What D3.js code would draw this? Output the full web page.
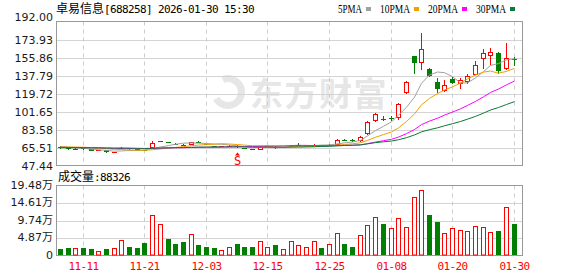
<!DOCTYPE html>
<html>
<head>
<meta charset="utf-8">
<script src="https://cdn.jsdelivr.net/npm/d3@7"></script>
<style>
  html, body { margin: 0; padding: 0; background: #fff; }
  svg { display: block; }
</style>
</head>
<body>
<svg id="chart" width="578" height="276"></svg>
<script>
const stockName = '卓易信息';
const stockCode = '[688258] 2026-01-30 15:30';

const dates = [
  '2025-11-06', '2025-11-07', '2025-11-10', '2025-11-11', '2025-11-12', '2025-11-13', '2025-11-14',
  '2025-11-17', '2025-11-18', '2025-11-19', '2025-11-20', '2025-11-21', '2025-11-24', '2025-11-25',
  '2025-11-26', '2025-11-27', '2025-11-28', '2025-12-01', '2025-12-02', '2025-12-03', '2025-12-04',
  '2025-12-05', '2025-12-08', '2025-12-09', '2025-12-10', '2025-12-11', '2025-12-12', '2025-12-15',
  '2025-12-16', '2025-12-17', '2025-12-18', '2025-12-19', '2025-12-22', '2025-12-23', '2025-12-24',
  '2025-12-25', '2025-12-26', '2025-12-29', '2025-12-30', '2025-12-31', '2026-01-05', '2026-01-06',
  '2026-01-07', '2026-01-08', '2026-01-09', '2026-01-12', '2026-01-13', '2026-01-14', '2026-01-15',
  '2026-01-16', '2026-01-19', '2026-01-20', '2026-01-21', '2026-01-22', '2026-01-23', '2026-01-26',
  '2026-01-27', '2026-01-28', '2026-01-29', '2026-01-30'
];

const opens = [
  66.5, 65.5, 63.8, 64.8, 63.6, 62.0, 62.6, 60.0, 64.3, 64.8,
  63.6, 62.8, 64.8, 71.4, 70.8, 69.5, 67.9, 68.5, 70.6, 69.0,
  67.0, 66.5, 66.8, 66.6, 65.0, 63.8, 63.2, 66.3, 66.0, 65.5,
  66.0, 68.5, 67.8, 68.0, 67.9, 68.1, 68.2, 72.9, 72.6, 71.8,
  78.6, 91.9, 94.5, 95.1, 95.0, 120.0, 157.5, 150.5, 144.5, 130.8,
  122.4, 134.1, 129.5, 130.8, 138.5, 154.5, 157.5, 159.9, 144.1, 154.2
];
const highs = [
  67.5, 66.0, 65.0, 65.2, 64.0, 63.0, 63.0, 61.2, 65.8, 65.0,
  63.8, 63.2, 72.5, 72.5, 71.2, 69.8, 68.8, 71.5, 72.3, 69.2,
  67.2, 67.2, 67.6, 67.8, 65.3, 64.0, 67.5, 67.2, 66.8, 66.2,
  67.6, 70.2, 68.4, 68.8, 68.5, 68.9, 74.2, 73.8, 73.8, 76.6,
  91.9, 100.6, 96.9, 96.9, 110.0, 132.1, 157.8, 180.1, 145.8, 135.5,
  133.5, 135.8, 135.5, 139.5, 152.8, 164.2, 164.9, 160.9, 170.2, 156.2
];
const lows = [
  64.5, 63.2, 63.5, 63.2, 61.5, 61.8, 60.2, 59.8, 64.0, 63.5,
  62.2, 61.8, 64.5, 71.0, 70.0, 69.0, 66.8, 68.2, 70.2, 68.5,
  66.2, 66.3, 66.6, 64.9, 64.2, 63.0, 63.0, 66.0, 64.5, 65.2,
  65.8, 67.5, 67.4, 67.8, 67.6, 67.9, 67.5, 71.8, 71.2, 71.5,
  78.3, 91.6, 91.9, 91.9, 93.6, 119.4, 139.5, 143.5, 135.8, 120.7,
  121.7, 128.8, 124.0, 129.5, 137.8, 144.5, 148.5, 139.5, 143.5, 147.1
];
const closes = [
  65.0, 63.8, 64.5, 63.6, 61.8, 62.5, 60.5, 60.8, 64.9, 63.8,
  62.5, 62.2, 70.2, 71.6, 70.5, 69.2, 67.8, 71.2, 70.5, 68.8,
  66.5, 66.8, 67.2, 66.4, 64.5, 63.3, 66.5, 66.8, 65.4, 65.8,
  67.3, 67.9, 68.0, 68.3, 68.1, 68.5, 73.0, 72.8, 72.5, 76.2,
  91.6, 99.3, 94.3, 95.0, 109.4, 131.5, 150.1, 163.9, 136.8, 124.0,
  128.4, 130.1, 132.8, 136.8, 148.5, 160.5, 160.9, 142.1, 155.5, 154.0
];
// volume in 万 (10k shares)
const volumes = [
  1.7, 2.0, 2.2, 2.0, 1.7, 1.3, 1.7, 2.2, 4.4, 2.3,
  2.0, 3.4, 11.2, 8.9, 4.5, 3.1, 3.7, 6.1, 2.8, 2.4,
  2.0, 1.6, 2.3, 3.1, 2.3, 2.3, 4.1, 2.5, 2.8, 1.7,
  4.1, 3.0, 2.4, 3.9, 2.0, 3.3, 6.4, 3.1, 2.5, 5.8,
  8.4, 10.6, 8.8, 7.6, 10.5, 7.9, 16.3, 18.1, 11.3, 9.3,
  6.4, 7.6, 7.1, 6.8, 8.2, 7.9, 6.5, 6.8, 13.6, 8.8326
];
// closes of the 29 sessions before the window, needed for the moving averages
const priorCloses = [
  64.2, 63.5, 63.9, 64.8, 65.3, 64.6, 63.8, 64.1, 65.0, 65.8,
  66.2, 65.4, 64.7, 64.0, 63.6, 64.3, 65.1, 65.9, 66.4, 66.0,
  65.2, 64.6, 65.3, 66.1, 66.8, 67.2, 66.5, 66.9, 67.3
];

const maPeriods = [5, 10, 20, 30];
const maNames = ['5PMA', '10PMA', '20PMA', '30PMA'];
const maColors = ['#a0a0a0', '#f0a000', '#ff00ff', '#0a7a36'];

const priceTicks = [47.44, 65.51, 83.58, 101.65, 119.72, 137.79, 155.86, 173.93, 192.00];
const volTicks = [0, 4.87, 9.74, 14.61, 19.48];
const dateTicks = ['2025-11-11', '2025-11-21', '2025-12-03', '2025-12-15', '2025-12-25', '2026-01-08', '2026-01-20', '2026-01-30'];
const signals = [{ date: '2025-12-09', label: 'S' }];

const RED = '#ff0000';
const GREEN = '#008000';
const NUM_FONT = 'DejaVu Sans';
const MONO_FONT = 'DejaVu Sans Mono';
const CJK_FONT = 'Noto Sans CJK SC';

const data = dates.map((d, i) => ({
  date: d,
  open: opens[i],
  high: highs[i],
  low: lows[i],
  close: closes[i],
  vol: volumes[i],
  prevClose: i === 0 ? priorCloses[priorCloses.length - 1] : closes[i - 1],
}));

const allCloses = priorCloses.concat(closes);
const maSeries = maPeriods.map((n) =>
  data.map((_, i) => {
    const end = i + priorCloses.length + 1;
    return d3.mean(allCloses.slice(end - n, end));
  })
);

const svg = d3.select('#chart');
const plotLeft = 56.5;
const plotRight = 522.5;

const xScale = d3.scaleBand().domain(dates).range([56.5, 517.9]).padding(0);
const cx = (d) => Math.floor(xScale(d) + xScale.bandwidth() / 2) + 0.5;

const yPrice = d3.scaleLinear().domain([47.44, 192]).range([165.5, 21.5]);
const yVol = d3.scaleLinear().domain([0, 19.48]).range([255.5, 185.5]);

// watermark
svg.append('text')
  .attr('x', 250)
  .attr('y', 106)
  .attr('font-family', CJK_FONT)
  .attr('font-weight', 'bold')
  .attr('font-size', 33)
  .attr('letter-spacing', 1.5)
  .attr('fill', '#e6e6e6')
  .text('东方财富');
svg.append('path')
  .attr('d', d3.arc()({ innerRadius: 10, outerRadius: 17, startAngle: -0.4, endAngle: 4.2 }))
  .attr('transform', 'translate(228, 92)')
  .attr('fill', '#e6e6e6');

// ---- price panel grid ----
svg.append('g')
  .attr('transform', `translate(${plotLeft}, 0)`)
  .call(d3.axisLeft(yPrice)
    .tickValues(priceTicks.slice(1, -1))
    .tickSize(plotLeft - plotRight)
    .tickFormat(''))
  .call((g) => g.select('.domain').remove())
  .selectAll('line')
  .attr('stroke', '#d4d4d4')
  .attr('shape-rendering', 'crispEdges');

svg.append('g')
  .attr('transform', `translate(${plotLeft}, 0)`)
  .call(d3.axisLeft(yVol)
    .tickValues(volTicks.slice(1, -1))
    .tickSize(plotLeft - plotRight)
    .tickFormat(''))
  .call((g) => g.select('.domain').remove())
  .selectAll('line')
  .attr('stroke', '#d4d4d4')
  .attr('shape-rendering', 'crispEdges');

// vertical dashed grid
[[21.5, 165.5], [185.5, 255.5]].forEach(([y0, y1]) => {
  svg.append('g')
    .selectAll('line')
    .data(dateTicks)
    .join('line')
    .attr('x1', (d) => cx(d))
    .attr('x2', (d) => cx(d))
    .attr('y1', y0)
    .attr('y2', y1)
    .attr('stroke', '#cccccc')
    .attr('stroke-dasharray', '4,4');
});

// frames
[[21.5, 165.5], [185.5, 255.5]].forEach(([y0, y1]) => {
  svg.append('rect')
    .attr('x', plotLeft)
    .attr('y', y0)
    .attr('width', plotRight - plotLeft)
    .attr('height', y1 - y0)
    .attr('fill', 'none')
    .attr('stroke', '#999999');
});

// ---- candles ----
const candles = svg.append('g');
const isUp = (d) => d.close > d.open;

candles.selectAll('line.wick')
  .data(data)
  .join('line')
  .attr('class', 'wick')
  .attr('x1', (d) => cx(d.date))
  .attr('x2', (d) => cx(d.date))
  .attr('y1', (d) => Math.round(yPrice(d.high)))
  .attr('y2', (d) => Math.round(yPrice(d.low)))
  .attr('stroke', (d) => (isUp(d) ? RED : GREEN));

candles.selectAll('rect.body')
  .data(data)
  .join('rect')
  .attr('class', 'body')
  .each(function (d) {
    const top = Math.round(yPrice(Math.max(d.open, d.close)));
    const bot = Math.round(yPrice(Math.min(d.open, d.close)));
    const el = d3.select(this);
    if (isUp(d) && bot - top >= 2) {
      el.attr('x', cx(d.date) - 2)
        .attr('y', top + 0.5)
        .attr('width', 4)
        .attr('height', bot - top - 1)
        .attr('fill', '#fff')
        .attr('stroke', RED);
    } else {
      el.attr('x', cx(d.date) - 2.5)
        .attr('y', top)
        .attr('width', 5)
        .attr('height', Math.max(1, bot - top))
        .attr('fill', isUp(d) ? RED : GREEN);
    }
  });

// ---- moving averages ----
maSeries.forEach((series, k) => {
  svg.append('path')
    .datum(series)
    .attr('fill', 'none')
    .attr('stroke', maColors[k])
    .attr('stroke-width', 1)
    .attr('d', d3.line()
      .x((_, i) => cx(dates[i]))
      .y((v) => yPrice(v)));
});

// signal markers
const sig = svg.append('g');
signals.forEach((s) => {
  const d = data.find((p) => p.date === s.date);
  const x = cx(d.date);
  const y = yPrice(d.low) + 4.5;
  sig.append('path')
    .attr('d', `M${x},${y} L${x + 2.5},${y + 3} L${x - 2.5},${y + 3} Z`)
    .attr('fill', RED);
  sig.append('text')
    .attr('x', x)
    .attr('y', y + 12.5)
    .attr('text-anchor', 'middle')
    .attr('font-family', MONO_FONT)
    .attr('font-size', 12)
    .attr('fill', RED)
    .text(s.label);
});

// ---- volume bars ----
const volUp = (d) => d.close >= d.prevClose;
svg.append('g')
  .selectAll('rect')
  .data(data)
  .join('rect')
  .each(function (d) {
    const top = Math.round(yVol(d.vol));
    const base = 255;
    const el = d3.select(this);
    if (volUp(d)) {
      el.attr('x', cx(d.date) - 2)
        .attr('y', top + 0.5)
        .attr('width', 4)
        .attr('height', base - top - 0.5)
        .attr('fill', '#fff')
        .attr('stroke', RED);
    } else {
      el.attr('x', cx(d.date) - 2.5)
        .attr('y', top)
        .attr('width', 5)
        .attr('height', base - top)
        .attr('fill', GREEN);
    }
  });

// ---- axes labels ----
const yAxis = svg.append('g')
  .attr('transform', `translate(${plotLeft - 0.5}, 0)`)
  .call(d3.axisLeft(yPrice)
    .tickValues(priceTicks)
    .tickFormat(d3.format('.2f'))
    .tickSize(0)
    .tickPadding(3));
yAxis.select('.domain').remove();
yAxis.selectAll('text')
  .attr('font-family', NUM_FONT)
  .attr('font-size', 11)
  .attr('fill', '#1a1a1a')
  .filter((d) => d === 192)
  .attr('y', -4.5);

const volAxis = svg.append('g')
  .attr('transform', `translate(${plotLeft - 0.5}, 0)`)
  .call(d3.axisLeft(yVol)
    .tickValues(volTicks)
    .tickFormat((d) => (d === 0 ? '0' : d.toFixed(2) + '万'))
    .tickSize(0)
    .tickPadding(3));
volAxis.select('.domain').remove();
volAxis.selectAll('text')
  .attr('font-family', `${NUM_FONT}, ${CJK_FONT}`)
  .attr('font-size', 11)
  .attr('fill', '#1a1a1a')
  .attr('y', -1);

const xAxis = svg.append('g')
  .attr('transform', 'translate(0, 262)')
  .call(d3.axisBottom(xScale)
    .tickValues(dateTicks)
    .tickFormat((d) => d.slice(5))
    .tickSize(0)
    .tickPadding(0));
xAxis.select('.domain').remove();
xAxis.selectAll('.tick').attr('transform', (d) => `translate(${cx(d)}, 0)`);
xAxis.selectAll('text')
  .attr('font-family', MONO_FONT)
  .attr('font-size', 11)
  .attr('letter-spacing', -0.6)
  .attr('fill', RED);

// ---- title ----
const title = svg.append('text')
  .attr('x', 56)
  .attr('y', 13)
  .attr('fill', '#000');
title.append('tspan')
  .attr('font-family', CJK_FONT)
  .attr('font-size', 12)
  .text(stockName);
title.append('tspan')
  .attr('font-family', MONO_FONT)
  .attr('font-size', 11)
  .attr('letter-spacing', -0.62)
  .text(stockCode);

// legend
const legend = svg.append('g');
let lx = 338;
maNames.forEach((name, k) => {
  const t = legend.append('text')
    .attr('x', lx)
    .attr('y', 13)
    .attr('font-family', 'Liberation Serif')
    .attr('font-size', 12)
    .attr('textLength', name.length * 6)
    .attr('lengthAdjust', 'spacingAndGlyphs')
    .attr('fill', '#000')
    .text(name);
  const w = name.length * 6;
  legend.append('rect')
    .attr('x', lx + w + 4)
    .attr('y', 7)
    .attr('width', 5)
    .attr('height', 4)
    .attr('fill', maColors[k]);
  lx += w + 4 + 5 + 9;
});

// volume caption
const volCap = svg.append('text')
  .attr('x', 58)
  .attr('y', 181)
  .attr('fill', '#000');
volCap.append('tspan')
  .attr('font-family', CJK_FONT)
  .attr('font-size', 12)
  .text('成交量');
volCap.append('tspan')
  .attr('font-family', MONO_FONT)
  .attr('font-size', 11)
  .attr('letter-spacing', -0.62)
  .text(':' + Math.round(volumes[volumes.length - 1] * 10000));
</script>
</body>
</html>
